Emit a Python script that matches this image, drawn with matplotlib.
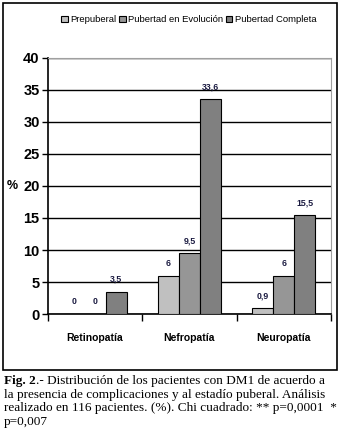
import numpy as np
import matplotlib
matplotlib.use('Agg')
import matplotlib.pyplot as plt
from matplotlib.patches import Rectangle

categorias = ['Retinopatía', 'Nefropatía', 'Neuropatía']
series = ['Prepuberal', 'Pubertad en Evolución', 'Pubertad Completa']
prepuberal = [0, 6, 0.9]
evolucion = [0, 9.5, 6]
completa = [3.5, 33.6, 15.5]
etiquetas_y = [0, 5, 10, 15, 20, 25, 30, 35, 40]

colores = ['#C0C0C0', '#969696', '#808080']
fuente = ['Liberation Sans', 'DejaVu Sans']
serif = ['Liberation Serif', 'DejaVu Serif']

fig = plt.figure(figsize=(3.4, 4.32), dpi=100)

# marco exterior
fig.patches.append(Rectangle((0.009, 0.144), 0.982, 0.849, transform=fig.transFigure,
                             fill=False, edgecolor='black', linewidth=1.2))

ax = fig.add_axes([0.141, 0.273, 0.832, 0.593])
x = np.arange(len(categorias))
ancho = 0.223
valores = [prepuberal, evolucion, completa]
for i, (serie, vals) in enumerate(zip(series, valores)):
    pos = x + (i - 1) * ancho
    ax.bar(pos, vals, ancho, color=colores[i], edgecolor='black', linewidth=0.8,
           label=serie, zorder=3)
    for p, v in zip(pos, vals):
        txt = ('%g' % v).replace('.', ',')
        ax.text(p, v + 1.2, txt, ha='center', va='bottom', fontsize=6.3,
                fontweight='bold', color='#1a1a40', family=fuente)

ax.set_ylim(0, 40)
ax.set_xlim(-0.5, 2.5)
ax.set_yticks(etiquetas_y)
ax.set_yticklabels([str(v) for v in etiquetas_y], fontsize=10.5, fontweight='bold',
                   family=fuente)
ax.yaxis.grid(True, color='black', linewidth=1, zorder=0)
ax.set_axisbelow(True)
ax.set_xticks([-0.5, 0.5, 1.5, 2.5])
ax.set_xticklabels([])
ax.tick_params(axis='x', length=5, direction='out', width=1)
ax.tick_params(axis='y', length=4, direction='out', width=1, pad=2)
for c, nombre in zip(x, categorias):
    ax.text(c, -3.7, nombre, ha='center', va='center', fontsize=7.5, fontweight='bold',
            family=fuente)
ax.text(-0.105, 20, '%', transform=ax.get_yaxis_transform(), ha='right', va='center',
        fontsize=9, fontweight='bold', family=fuente)

ax.spines['left'].set_linewidth(1.2)
ax.spines['bottom'].set_linewidth(1.2)
ax.spines['right'].set_color('#A0A0A0')
ax.spines['top'].set_color('#A0A0A0')

ax.legend(loc='center', bbox_to_anchor=(0.555, 0.954), bbox_transform=fig.transFigure,
          ncol=3, frameon=False, handlelength=0.7, handleheight=0.7,
          handletextpad=0.25, columnspacing=0.3,
          prop={'family': fuente, 'size': 6.8})

# pie de figura
tam = 9.5
t = fig.text(0.012, 0.118, 'Fig. 2', fontsize=tam, family=serif, fontweight='bold',
             va='center')
fig.canvas.draw()
bb = t.get_window_extent().transformed(fig.transFigure.inverted())
fig.text(bb.x1, 0.118, '.- Distribución de los pacientes con DM1 de acuerdo a',
         fontsize=tam, family=serif, va='center')
fig.text(0.012, 0.086, 'la presencia de complicaciones y al estadío puberal. Análisis',
         fontsize=tam, family=serif, va='center')
fig.text(0.012, 0.055, 'realizado en 116 pacientes. (%). Chi cuadrado: ** p=0,0001  *',
         fontsize=tam, family=serif, va='center')
fig.text(0.012, 0.024, 'p=0,007', fontsize=tam, family=serif, va='center')

fig.savefig('out.png', dpi=100)
